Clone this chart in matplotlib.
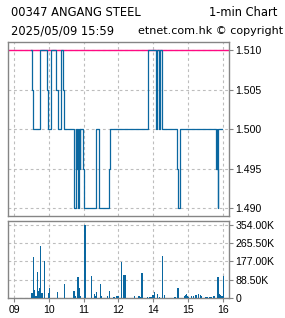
#!/usr/bin/env python3
"""1-min intraday chart: price step line + volume bars."""

import matplotlib
matplotlib.use("Agg")
import matplotlib.pyplot as plt

# minute at which the last price changed, and the new price
price_times = [
    "09:30", "09:31", "09:33", "09:44", "09:57", "09:59", "10:03", "10:13",
    "10:15", "10:21", "10:25", "10:26", "10:43", "10:44", "10:46", "10:47",
    "10:48", "10:50", "10:51", "10:52", "10:53", "10:54", "10:59", "11:00",
    "11:22", "11:27", "11:44", "11:46", "13:50", "13:51", "14:05", "14:06",
    "14:10", "14:11", "14:12", "14:15", "14:41", "14:43", "14:46", "15:48",
    "15:49", "15:50", "15:51", "15:52", "15:59",
]
price_values = [
    1.510, 1.505, 1.500, 1.510, 1.505, 1.500, 1.510, 1.505,
    1.500, 1.510, 1.505, 1.500, 1.495, 1.490, 1.500, 1.495,
    1.500, 1.495, 1.490, 1.500, 1.495, 1.500, 1.495, 1.490,
    1.500, 1.490, 1.495, 1.500, 1.505, 1.510, 1.500, 1.510,
    1.500, 1.505, 1.510, 1.500, 1.495, 1.490, 1.500, 1.495,
    1.500, 1.495, 1.490, 1.500, 1.500,
]
prev_close = 1.510

vol_times = [
    "09:30", "09:31", "09:33", "09:34", "09:36", "09:38", "09:40", "09:41",
    "09:43", "09:45", "09:47", "09:52", "09:59", "10:00", "10:14", "10:26",
    "10:43", "10:45", "10:49", "10:52", "10:54", "11:01", "11:13", "11:18",
    "11:20", "11:21", "11:28", "11:30", "11:40", "11:44", "11:51", "11:56",
    "11:57", "11:59", "13:04", "13:08", "13:09", "13:11", "13:27", "13:34",
    "13:37", "13:40", "13:49", "13:53", "13:56", "13:59", "14:01", "14:06",
    "14:10", "14:15", "14:18", "14:36", "14:42", "14:53", "14:55", "14:56",
    "14:58", "15:00", "15:05", "15:08", "15:13", "15:17", "15:20", "15:22",
    "15:29", "15:32", "15:36", "15:38", "15:44", "15:50", "15:51", "15:53",
    "15:55", "15:57", "16:00",
]
vol_values = [
    24, 10, 200, 37, 6, 6, 126, 34,
    45, 252, 24, 179, 21, 48, 29, 68,
    34, 6, 102, 48, 6, 354, 107, 19,
    6, 29, 68, 6, 10, 34, 5, 5,
    6, 10, 175, 10, 112, 112, 10, 10,
    5, 121, 5, 5, 5, 15, 29, 19,
    5, 204, 15, 5, 48, 10, 15, 19,
    10, 5, 10, 10, 15, 19, 15, 10,
    5, 5, 5, 5, 10, 102, 82, 19,
    15, 10, 107,
]  # thousands of shares

hour_ticks = ["09:00", "10:00", "11:00", "12:00", "14:00", "15:00", "16:00"]
hour_labels = ["09", "10", "11", "12", "14", "15", "16"]
price_ticks = [1.490, 1.495, 1.500, 1.505, 1.510]
vol_ticks = [0, 88.5, 177.0, 265.5, 354.0]
vol_labels = ["0", "88.50K", "177.00K", "265.50K", "354.00K"]

BLUE = "#0a67a0"
PINK = "#ff0a82"
FRAME = "#858585"
GRID = "#bdbdbd"
TICK_FONT = "Liberation Sans"


def to_x(t):
    # minutes since 09:00, lunch break collapsed
    h, m = map(int, t.split(":"))
    mins = h * 60 + m - 9 * 60
    if h >= 13:
        mins -= 60
    return mins


def style_axis(ax):
    for s in ax.spines.values():
        s.set_color(FRAME)
        s.set_linewidth(1.0)
    ax.yaxis.tick_right()
    ax.tick_params(axis="y", colors=FRAME, length=3, width=0.8,
                   labelcolor="black", labelsize=7.6, pad=1.5)
    ax.tick_params(axis="x", colors=FRAME, length=3, width=0.8,
                   labelcolor="black", labelsize=7.6, pad=2)
    ax.set_xlim(-10.3, 370.3)
    ax.set_xticks([to_x(t) for t in hour_ticks])
    ax.grid(True, color=GRID, linestyle=(0, (2.5, 2.5)), linewidth=0.8)
    ax.set_axisbelow(True)
    for lab in ax.get_xticklabels() + ax.get_yticklabels():
        lab.set_family(TICK_FONT)


fig = plt.figure(figsize=(2.85, 3.18), dpi=100)
W, H = 285.0, 318.0

ax1 = fig.add_axes([8 / W, 1 - 216 / H, 221 / W, 173.7 / H])
ax2 = fig.add_axes([8 / W, 1 - 298 / H, 221 / W, 77 / H])

# price
ax1.axhline(prev_close, color=PINK, linewidth=1.0, zorder=2)
ax1.step([to_x(t) for t in price_times], price_values, where="post",
         color=BLUE, linewidth=0.9, zorder=3)
ax1.set_ylim(1.48903, 1.51097)
ax1.set_yticks(price_ticks)
ax1.set_yticklabels([f"{v:.3f}" for v in price_ticks])
style_axis(ax1)
ax1.tick_params(axis="x", length=0, labelbottom=False)

# volume
ax2.bar([to_x(t) for t in vol_times], vol_values, width=1.0,
        color=BLUE, edgecolor=BLUE, linewidth=0.6, antialiased=False,
        zorder=3)
ax2.set_ylim(-1.5, 373.5)
ax2.set_yticks(vol_ticks)
ax2.set_yticklabels(vol_labels)
ax2.set_xticklabels(hour_labels)
style_axis(ax2)

fig.text(11 / W, 1 - 15.5 / H, "00347 ANGANG STEEL", fontsize=8.3, va="baseline")
fig.text(277 / W, 1 - 15.5 / H, "1-min Chart", fontsize=8.3, va="baseline",
         ha="right")
fig.text(11 / W, 1 - 34 / H, "2025/05/09 15:59", fontsize=8.3, va="baseline")
fig.text(283 / W, 1 - 34 / H, "etnet.com.hk © copyright", fontsize=8,
         va="baseline", ha="right")

fig.savefig("out.png", dpi=100)
plt.close(fig)
